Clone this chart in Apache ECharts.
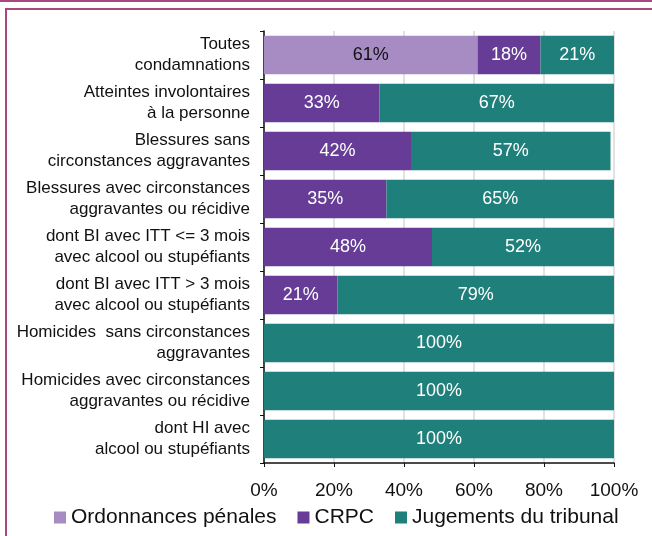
<!DOCTYPE html>
<html>
<head>
  <meta charset="UTF-8">
  <title>Condamnations</title>
  <script src="https://cdn.jsdelivr.net/npm/echarts@6/dist/echarts.min.js"></script>
  <style>
    html, body { margin: 0; padding: 0; background: #fff; }
  </style>
</head>
<body>
  <div id="chart" style="width: 652px; height: 536px"></div>
  <script>
    // catégories (de haut en bas)
    var categories = [
      'Toutes\ncondamnations',
      'Atteintes involontaires\nà la personne',
      'Blessures sans\ncirconstances aggravantes',
      'Blessures avec circonstances\naggravantes ou récidive',
      'dont BI avec ITT <= 3 mois\navec alcool ou stupéfiants',
      'dont BI avec ITT > 3 mois\navec alcool ou stupéfiants',
      'Homicides  sans circonstances\naggravantes',
      'Homicides avec circonstances\naggravantes ou récidive',
      'dont HI avec\nalcool ou stupéfiants'
    ];
    var ordonnances = [61, 0, 0, 0, 0, 0, 0, 0, 0];
    var crpc = [18, 33, 42, 35, 48, 21, 0, 0, 0];
    var jugements = [21, 67, 57, 65, 52, 79, 100, 100, 100];
    var seriesNames = ['Ordonnances pénales', 'CRPC', 'Jugements du tribunal'];
    var colors = ['#a78cc3', '#663c96', '#1f7f7b'];

    var font = 'Liberation Sans, Arial, sans-serif';
    var chart = echarts.init(document.getElementById('chart'));

    function makeSeries(name, data, color, labelColor) {
      return {
        name: name,
        type: 'bar',
        stack: 'total',
        barCategoryGap: '20%',
        itemStyle: { color: color },
        label: {
          show: true,
          position: 'inside',
          color: labelColor,
          fontFamily: font,
          fontSize: 18,
          formatter: function (p) { return p.value > 0 ? p.value + '%' : ''; }
        },
        data: data
      };
    }

    var option = {
      animation: false,
      color: colors,
      grid: { left: 264, right: 38, top: 31, bottom: 73 },
      graphic: [
        {
          type: 'rect',
          shape: { x: 0, y: 0, width: 652, height: 2 },
          style: { fill: '#a8467f' }
        },
        {
          type: 'rect',
          shape: { x: 6, y: 9, width: 700, height: 600 },
          style: { fill: 'none', stroke: '#a8467f', lineWidth: 2 }
        }
      ],
      legend: {
        data: seriesNames,
        bottom: 3,
        left: 49,
        itemWidth: 12,
        itemHeight: 12,
        itemGap: 21,
        icon: 'rect',
        textStyle: { fontFamily: font, fontSize: 21, color: '#111' }
      },
      xAxis: {
        type: 'value',
        min: 0,
        max: 100,
        interval: 20,
        axisLine: { show: true, lineStyle: { color: '#111', width: 1.5 } },
        axisTick: { show: true, length: 4, lineStyle: { color: '#111' } },
        axisLabel: {
          formatter: '{value}%',
          fontFamily: font,
          fontSize: 19,
          color: '#111',
          margin: 18
        },
        splitLine: { show: true, lineStyle: { color: '#d9d9d9', width: 1.5 } }
      },
      yAxis: {
        type: 'category',
        inverse: true,
        data: categories,
        axisLine: { show: true, lineStyle: { color: '#111', width: 1.5 } },
        axisTick: { show: true, length: 4, lineStyle: { color: '#111' } },
        axisLabel: {
          fontFamily: font,
          fontSize: 17,
          color: '#111',
          lineHeight: 21,
          align: 'right',
          margin: 14
        }
      },
      series: [
        makeSeries(seriesNames[0], ordonnances, colors[0], '#111'),
        makeSeries(seriesNames[1], crpc, colors[1], '#fff'),
        makeSeries(seriesNames[2], jugements, colors[2], '#fff')
      ]
    };
    chart.setOption(option);
  </script>
</body>
</html>
